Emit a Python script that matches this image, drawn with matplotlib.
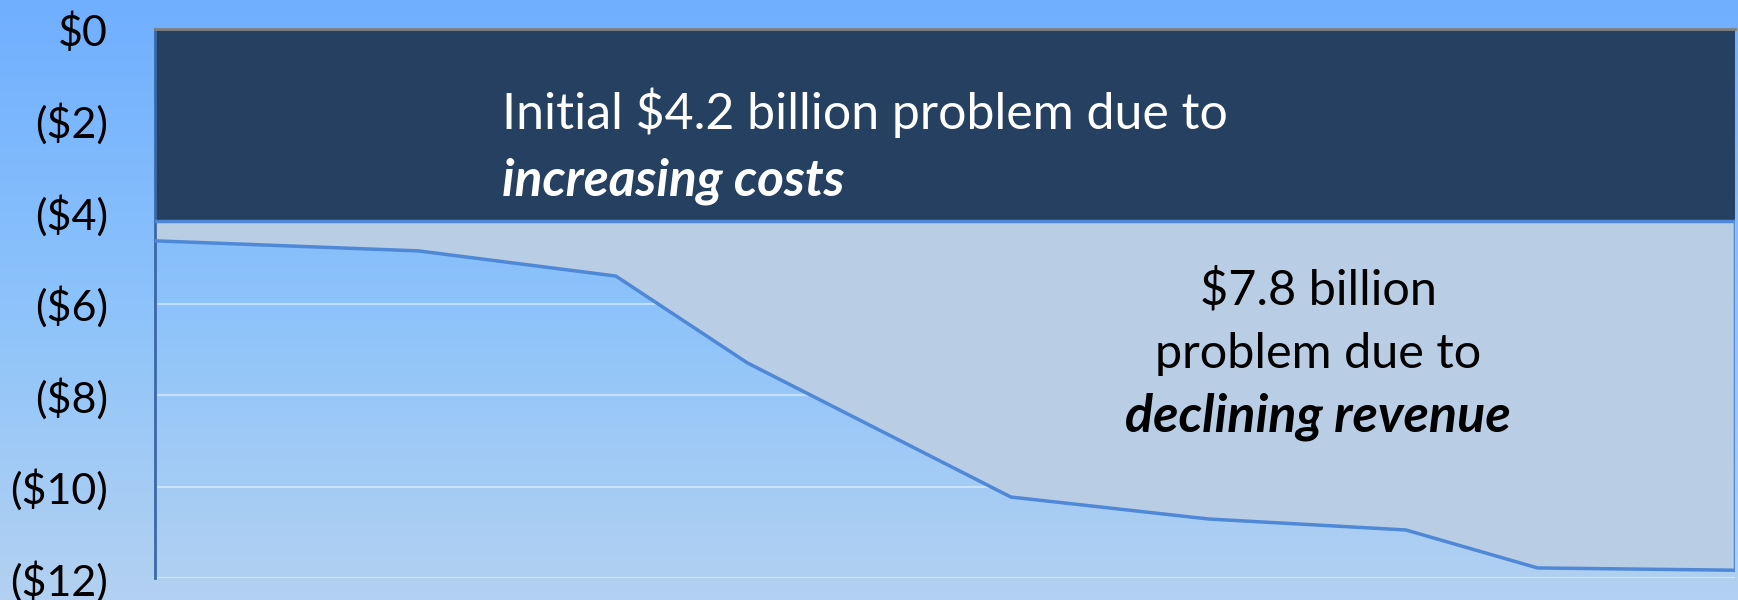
import numpy as np
import matplotlib
matplotlib.use("Agg")
import matplotlib.pyplot as plt
from matplotlib.colors import LinearSegmentedColormap

# data (x in months, y in $ billions)
months = [0, 4, 7, 9, 13, 16, 19, 21, 24]
balance = [-4.63, -4.85, -5.40, -7.30, -10.23, -10.71, -10.95, -11.78, -11.83]
initial_gap = -4.2
yticks = [-12, -10, -8, -6, -4, -2, 0]
ylabels = ["($12)", "($10)", "($8)", "($6)", "($4)", "($2)", "$0"]

plt.rcParams["font.family"] = ["Lato", "DejaVu Sans"]

W, H = 1738, 600
fig = plt.figure(figsize=(W / 100, H / 100), dpi=100)

# background gradient
bg = fig.add_axes([0, 0, 1, 1], zorder=0)
cmap = LinearSegmentedColormap.from_list("bg", ["#70afff", "#8cc3fb", "#b3d1f1"])
grad = np.linspace(0, 1, 256).reshape(-1, 1)
bg.imshow(grad, aspect="auto", cmap=cmap, extent=[0, 1, 0, 1], origin="upper")
bg.axis("off")

left, right, top, bottom = 155, 1735, 29, 578
ax = fig.add_axes([left / W, 1 - bottom / H, (right - left) / W, (bottom - top) / H], zorder=1)
ax.patch.set_alpha(0)
ax.set_xlim(months[0], months[-1])
ax.set_ylim(-12, 0)

line_col = "#4f88d6"
ax.fill_between([months[0], months[-1]], 0, initial_gap, color="#264061", zorder=2, lw=0)
ax.fill_between(months, initial_gap, balance, color="#b9cde4", zorder=2, lw=0)
ax.plot(months, balance, color=line_col, lw=2.5, zorder=3)
ax.plot([months[0], months[-1]], [initial_gap, initial_gap], color=line_col, lw=2.5, zorder=3)
ax.plot([months[-1], months[-1]], [initial_gap, balance[-1]], color=line_col, lw=2.5, zorder=3)

ax.set_yticks(yticks)
ax.set_yticklabels(ylabels)
ax.set_xticks([])
ax.tick_params(axis="y", length=0, pad=34, labelsize=31)
ax.set_axisbelow(True)
ax.yaxis.grid(True, color="white", alpha=0.45, lw=1.5)

ax.spines["bottom"].set_visible(False)
ax.spines["top"].set_color("#808080")
ax.spines["top"].set_linewidth(2)
ax.spines["left"].set_color("#3b68a6")
ax.spines["left"].set_linewidth(2)
ax.spines["right"].set_visible(False)

# annotations
fig.text(502 / W, 1 - 113 / H, "Initial $4.2 billion problem due to", color="white",
         fontsize=36, ha="left", va="center")
fig.text(502 / W, 1 - 181 / H, "increasing costs", color="white", fontsize=37,
         fontweight="bold", fontstyle="italic", ha="left", va="center")
fig.text(1318 / W, 1 - 290 / H, "$7.8 billion", color="black", fontsize=35, ha="center", va="center")
fig.text(1318 / W, 1 - 354 / H, "problem due to", color="black", fontsize=35, ha="center", va="center")
fig.text(1318 / W, 1 - 417 / H, "declining revenue", color="black", fontsize=37.5,
         fontweight="bold", fontstyle="italic", ha="center", va="center")

fig.savefig("out.png", dpi=100)
